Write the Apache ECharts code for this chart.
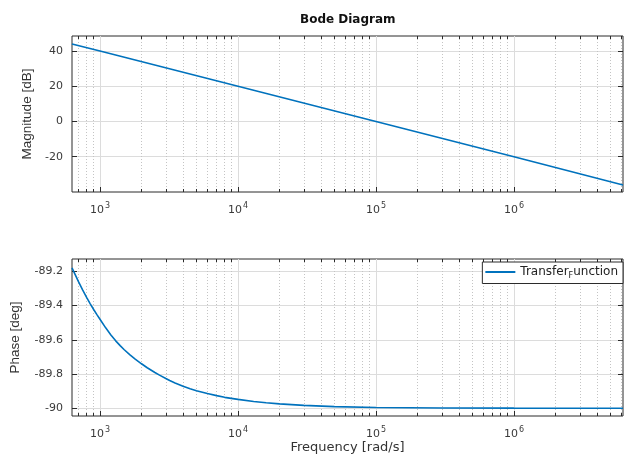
<!DOCTYPE html>
<html>
<head>
<meta charset="utf-8">
<script src="https://cdn.jsdelivr.net/npm/echarts@6/dist/echarts.min.js"></script>
<style>
  html, body { margin: 0; padding: 0; background: #fff; }
  #chart { width: 624px; height: 455px; }
</style>
</head>
<body>
<div id="chart"></div>
<script>
// values
var freqMag = [627, 1000, 10000, 100000, 1000000, 6170000]
var magDb = [44, 40, 20, 0, -20, -36]

var freqPhase = [627, 700, 750, 800, 850, 900, 950, 1000, 1100, 1200, 1300, 1400, 1500, 1650, 1800,
  2000, 2200, 2500, 2700, 3000, 3200, 3500, 4000, 4500, 5000, 6000, 7000, 8000, 10000, 13000,
  16000, 20000, 30000, 50000, 100000, 300000, 1000000, 6170000]
var phaseDeg = [-89.18, -89.262, -89.31, -89.352, -89.39, -89.423, -89.453, -89.48, -89.53, -89.572,
  -89.606, -89.634, -89.658, -89.688, -89.713, -89.74, -89.763, -89.791, -89.806, -89.826, -89.838,
  -89.852, -89.871, -89.886, -89.897, -89.914, -89.926, -89.936, -89.948, -89.96, -89.968,
  -89.974, -89.983, -89.99, -89.995, -89.998, -89.999, -90]

var decadeTicks = [1e3, 1e4, 1e5, 1e6]
var magTicks = [-20, 0, 20, 40]
var phaseTicks = [-90, -89.8, -89.6, -89.4, -89.2]

var xMin = 627
var xMax = 6170000

var minorTicks = []
for (var k = 2; k <= 6; k++) {
  for (var d = 2; d <= 9; d++) {
    var v = d * Math.pow(10, k)
    if (v > xMin && v < xMax) minorTicks.push(v)
  }
}

var lineColor = '#0072bd'
var boxColor = '#2b2b2b'
var labelColor = '#3a3a3a'
var font = 'DejaVu Sans'

function decadeLabel (value) {
  var e = Math.round(Math.log10(value))
  return '{b|10}{e|' + e + '}'
}

var xLabelRich = {
  b: { fontFamily: font, fontSize: 11, color: labelColor },
  e: { fontFamily: font, fontSize: 8, color: labelColor, padding: [0, 0, 9, 1] }
}

function xAxes (gridIndex, withName) {
  return [
    {
      gridIndex: gridIndex,
      type: 'log',
      logBase: 10,
      min: xMin,
      max: xMax,
      position: 'bottom',
      name: withName ? 'Frequency [rad/s]' : '',
      nameLocation: 'middle',
      nameGap: 25,
      nameTextStyle: { fontFamily: font, fontSize: 13, color: '#333' },
      axisLine: { show: false, onZero: false },
      axisTick: { show: true, inside: true, length: 5, customValues: decadeTicks, lineStyle: { color: boxColor } },
      axisLabel: { customValues: decadeTicks, formatter: decadeLabel, rich: xLabelRich, margin: 10 },
      splitLine: { show: true, lineStyle: { color: '#dcdcdc', width: 1 } }
    },
    {
      gridIndex: gridIndex,
      type: 'log',
      logBase: 10,
      min: xMin,
      max: xMax,
      position: 'top',
      axisLine: { show: false, onZero: false },
      axisTick: { show: true, inside: true, length: 3, customValues: minorTicks, lineStyle: { color: boxColor } },
      axisLabel: { show: false },
      splitLine: { show: true, lineStyle: { color: '#c4c4c4', width: 1, type: [1, 2] } }
    },
    {
      gridIndex: gridIndex,
      type: 'log',
      logBase: 10,
      min: xMin,
      max: xMax,
      position: 'bottom',
      axisLine: { show: false, onZero: false },
      axisTick: { show: true, inside: true, length: 3, customValues: minorTicks, lineStyle: { color: boxColor } },
      axisLabel: { show: false },
      splitLine: { show: false }
    }
  ]
}

function yAxes (gridIndex, min, max, ticks, name, gap) {
  return [
    {
      gridIndex: gridIndex,
      type: 'value',
      min: min,
      max: max,
      position: 'left',
      name: name,
      nameLocation: 'middle',
      nameGap: gap,
      nameTextStyle: { fontFamily: 'Liberation Sans', fontSize: 13.5, color: '#333' },
      axisLine: { show: false, onZero: false },
      axisTick: { show: true, inside: true, length: 5, customValues: ticks, lineStyle: { color: boxColor } },
      axisLabel: { customValues: ticks, fontFamily: font, fontSize: 11, color: labelColor, margin: 9 },
      splitLine: { show: true, lineStyle: { color: '#dcdcdc', width: 1 } }
    },
    {
      gridIndex: gridIndex,
      type: 'value',
      min: min,
      max: max,
      position: 'right',
      axisLine: { show: false, onZero: false },
      axisTick: { show: true, inside: true, length: 5, customValues: ticks, lineStyle: { color: boxColor } },
      axisLabel: { show: false },
      splitLine: { show: false }
    }
  ]
}

var option = {
  backgroundColor: '#ffffff',
  animation: false,
  title: {
    text: 'Bode Diagram',
    left: 295,
    top: 9,
    textStyle: { fontFamily: font, fontSize: 12, fontWeight: 'bold', color: '#111' }
  },
  legend: {
    data: ['Transfer_Function'],
    right: 1,
    top: 262,
    icon: 'rect',
    itemWidth: 30,
    itemHeight: 2,
    itemGap: 4,
    padding: [4, 5, 4, 3],
    backgroundColor: '#fff',
    borderColor: boxColor,
    borderWidth: 1,
    borderRadius: 0,
    formatter: function () { return '{a|Transfer}{s|F}{a|unction}' },
    textStyle: {
      rich: {
        a: { fontFamily: font, fontSize: 12, color: '#222' },
        s: { fontFamily: font, fontSize: 8, color: '#222', padding: [7, 0, 0, 0] }
      }
    }
  },
  grid: [
    { left: 72, top: 36, width: 551, height: 156, show: true, borderColor: boxColor, borderWidth: 1, backgroundColor: 'transparent' },
    { left: 72, top: 259, width: 551, height: 158, show: true, borderColor: boxColor, borderWidth: 1, backgroundColor: 'transparent' }
  ],
  xAxis: xAxes(0, false).concat(xAxes(1, true)),
  yAxis: yAxes(0, -40, 48.5, magTicks, 'Magnitude [dB]', 38)
    .concat(yAxes(1, -90.045, -89.128, phaseTicks, 'Phase [deg]', 50)),
  series: [
    {
      name: 'Magnitude',
      type: 'line',
      xAxisIndex: 0,
      yAxisIndex: 0,
      data: freqMag.map(function (f, i) { return [f, magDb[i]] }),
      showSymbol: false,
      lineStyle: { color: lineColor, width: 1.6 },
      itemStyle: { color: lineColor },
      clip: true
    },
    {
      name: 'Transfer_Function',
      type: 'line',
      xAxisIndex: 3,
      yAxisIndex: 2,
      data: freqPhase.map(function (f, i) { return [f, phaseDeg[i]] }),
      showSymbol: false,
      lineStyle: { color: lineColor, width: 1.6 },
      itemStyle: { color: lineColor },
      clip: true
    }
  ]
}

var myChart = echarts.init(document.getElementById('chart'))
myChart.setOption(option)
</script>
</body>
</html>
